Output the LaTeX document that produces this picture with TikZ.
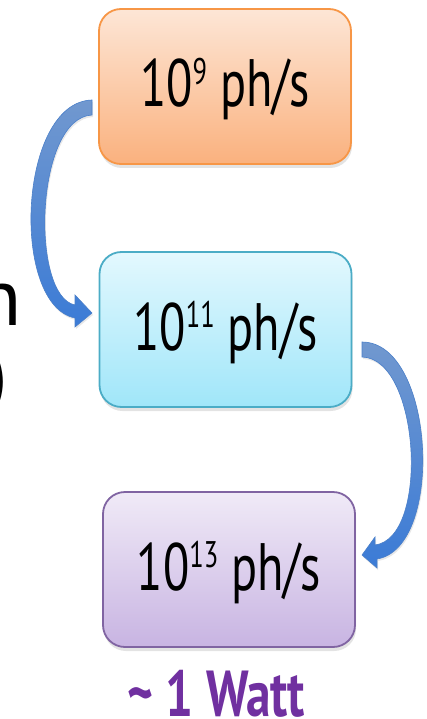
\documentclass[tikz,border=0pt]{standalone}
\usepackage{fontspec}
\setmainfont{PT Sans}
\usetikzlibrary{shadows}
\definecolor{orTop}{HTML}{FDE6D6}
\definecolor{orBot}{HTML}{FAB17E}
\definecolor{orLine}{HTML}{F79646}
\definecolor{cyTop}{HTML}{E3F8FE}
\definecolor{cyBot}{HTML}{A0E6F9}
\definecolor{cyLine}{HTML}{4BACC6}
\definecolor{puTop}{HTML}{F0EAF7}
\definecolor{puBot}{HTML}{C8B4E2}
\definecolor{puLine}{HTML}{8064A2}
\definecolor{wattPurple}{HTML}{7030A0}
\definecolor{arTop}{HTML}{7198CF}
\definecolor{arBot}{HTML}{3B7BD6}
\definecolor{arEdge}{HTML}{4A7FC9}
\newcommand\supnum[1]{\raisebox{0.33em}{\fontsize{37}{37}\selectfont #1}}
\begin{document}
\begin{tikzpicture}[x=1pt,y=-1pt,
  box/.style={draw, line width=1.8pt, rounded corners=22pt,
    minimum width=252pt, minimum height=155pt, inner sep=0pt,
    text height=41pt, text depth=0pt,
    font=\fontsize{67}{67}\selectfont,
    drop shadow={shadow xshift=1pt, shadow yshift=-4pt, opacity=0.22}},
  blockarrow/.style={draw=arEdge, line width=0.6pt, top color=arTop, bottom color=arBot,
    drop shadow={shadow xshift=1pt, shadow yshift=-2pt, opacity=0.18}},
  edgetext/.style={font=\fontsize{81}{81}\selectfont, anchor=base east, inner sep=0pt}
]
\useasboundingbox (0,0) rectangle (427,719);
\clip (0,0) rectangle (427,719);

% cut-off text at the left edge (as in the reference)
\node[edgetext] (ln) at (22,325) {n};
\node[edgetext] (lp) at (8,402) {)};

% boxes
\node[box, draw=orLine, top color=orTop, bottom color=orBot] (b1) at (225,86.5)
  {\scalebox{0.72}[1]{10\supnum{9} ph/s}};
\node[box, draw=cyLine, top color=cyTop, bottom color=cyBot] (b2) at (225.5,329.5)
  {\scalebox{0.72}[1]{10\supnum{11} ph/s}};
\node[box, draw=puLine, top color=puTop, bottom color=puBot] (b3) at (229,569.5)
  {\scalebox{0.72}[1]{10\supnum{13} ph/s}};

% curved block arrows
\path[blockarrow] (92,100) .. controls (18,102) and (10,305) .. (75,318)
  -- (75,327) -- (92,313) -- (75,295) -- (75,305)
  .. controls (30,296) and (35,118) .. (92,115) -- cycle;
\path[blockarrow] (362,342) .. controls (435,342) and (445,548) .. (377,559)
  -- (377,568) -- (362,555) -- (375,537) -- (375,545)
  .. controls (430,538) and (420,358) .. (362,357) -- cycle;

% label
\node[font=\fontsize{65}{65}\selectfont\bfseries, text=wattPurple, anchor=base, inner sep=0pt]
  (watt) at (216,716) {\scalebox{0.76}[1]{\textasciitilde{} 1 Watt}};
\end{tikzpicture}
\end{document}
